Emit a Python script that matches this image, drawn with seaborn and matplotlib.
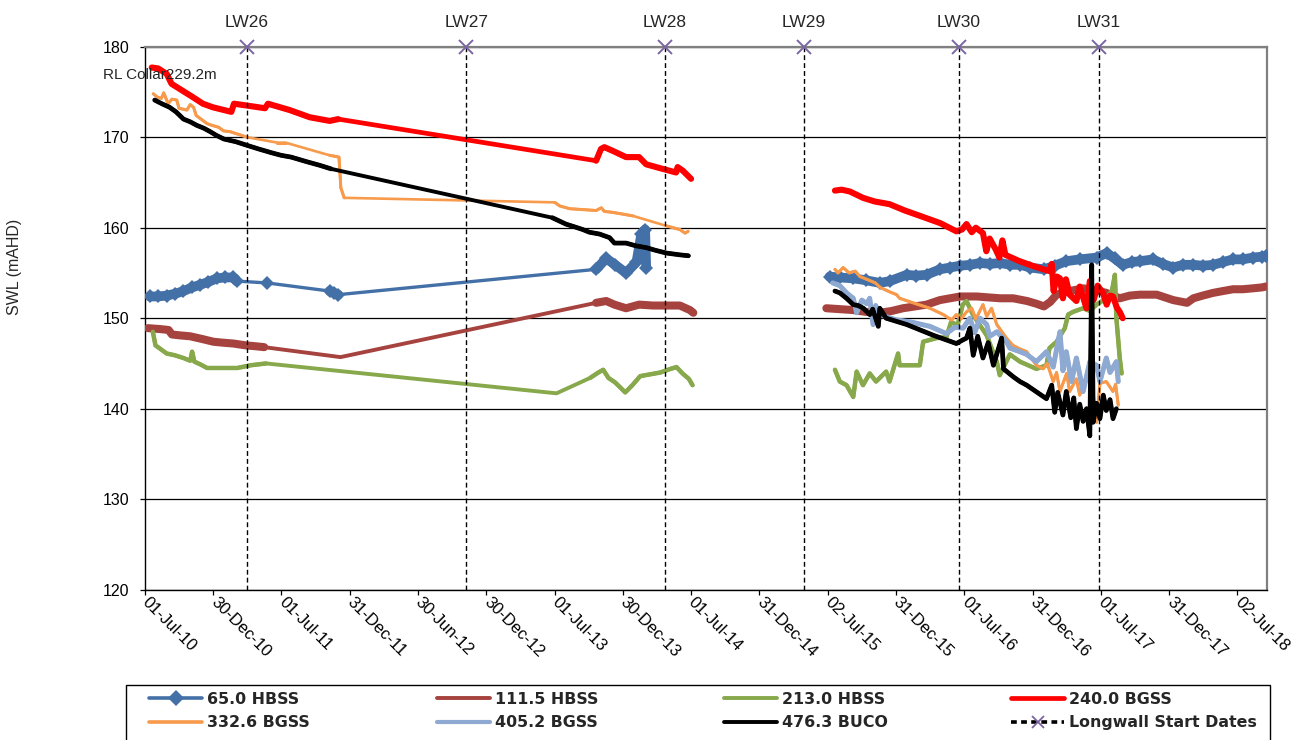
import numpy as np
import pandas as pd
import matplotlib
matplotlib.use("Agg")
import matplotlib.pyplot as plt
from matplotlib.lines import Line2D
from matplotlib.patches import Rectangle
import seaborn as sns

NA = np.nan  # no logger data for that period

# ---------------- standing water levels (mAHD) ----------------
hbss65_dates = ['2010-07-14', '2010-08-04', '2010-08-28', '2010-09-19', '2010-10-12', '2010-11-04',
                '2010-11-26', '2010-12-17', '2011-01-09', '2011-01-31', '2011-02-22', '2011-03-03',
                '2011-05-23', '2011-11-07', '2011-11-18', '2011-11-30', '2013-10-20', '2013-11-16',
                '2013-12-10', '2014-01-08', '2014-02-05', '2014-02-18', '2014-02-28', '2014-03-03',
                '2015-01-01',
                '2015-07-07', '2015-08-03', '2015-09-08', '2015-10-11', '2015-11-18', '2015-12-15',
                '2016-01-29', '2016-02-23', '2016-03-22', '2016-04-27', '2016-05-24', '2016-06-20',
                '2016-07-17', '2016-08-12', '2016-09-08', '2016-10-05', '2016-11-01', '2016-11-28',
                '2016-12-24', '2017-01-30', '2017-02-28', '2017-03-31', '2017-05-06', '2017-06-20',
                '2017-07-17', '2017-08-07', '2017-08-29', '2017-09-22', '2017-10-14', '2017-11-18',
                '2017-12-14', '2018-01-11', '2018-02-06', '2018-03-06', '2018-03-31', '2018-04-28',
                '2018-05-24', '2018-06-20', '2018-07-16', '2018-08-12', '2018-09-05', '2018-09-17']
hbss65_vals = [152.4, 152.4, 152.5, 152.7, 153.0, 153.4, 153.7, 154.0, 154.4, 154.5, 154.5, 154.1,
               153.9, 153.0, 152.8, 152.6, 155.4, 156.6, 155.9, 155.0, 156.2, 159.3, 159.8, 155.6,
               NA,
               154.6, 154.5, 154.4, 154.2, 153.9, 154.1,
               154.8, 154.7, 154.8, 155.4, 155.6, 155.8, 155.9, 156.1, 156.0, 156.1, 155.9, 155.9, 155.6,
               155.4, 155.8, 156.3, 156.5, 156.7, 157.2, 156.6, 155.9, 156.2, 156.3, 156.5, 156.0,
               155.6, 155.9, 155.9, 155.8, 155.9, 156.2, 156.5, 156.5, 156.7, 156.8, 156.9]

hbss111_dates = ['2010-07-09', '2010-08-10', '2010-09-02', '2010-09-11', '2010-10-03', '2010-10-30',
                 '2010-12-01', '2010-12-31', '2011-01-24', '2011-02-23', '2011-03-27', '2011-04-23',
                 '2011-05-16', '2011-12-06', '2013-10-20', '2013-11-16', '2013-12-08', '2014-01-08',
                 '2014-02-12', '2014-03-21', '2014-04-26', '2014-06-01', '2014-06-28', '2014-07-07',
                 '2015-01-01',
                 '2015-06-28', '2015-08-03', '2015-09-08', '2015-10-12', '2015-11-18', '2015-12-20',
                 '2016-01-19', '2016-02-20', '2016-03-22', '2016-04-27', '2016-05-24', '2016-06-20',
                 '2016-08-04', '2016-09-03', '2016-10-05', '2016-11-09', '2016-12-16',
                 '2017-01-10', '2017-01-30', '2017-02-16', '2017-03-05', '2017-04-09', '2017-05-15',
                 '2017-06-16', '2017-07-16', '2017-08-21', '2017-09-17', '2017-10-14', '2017-11-28',
                 '2018-01-11', '2018-02-17', '2018-03-06', '2018-03-31', '2018-04-28', '2018-05-24',
                 '2018-06-20', '2018-07-16', '2018-08-12', '2018-09-05', '2018-09-16']
hbss111_vals = [148.9, 148.8, 148.7, 148.2, 148.1, 148.0, 147.7, 147.4, 147.3, 147.2, 147.0, 146.9,
                146.8, 145.7, 151.7, 151.9, 151.5, 151.1, 151.5, 151.4, 151.4, 151.4, 150.9, 150.6,
                NA,
                151.1, 151.0, 150.9, 150.7, 150.6, 150.8,
                151.1, 151.3, 151.5, 152.0, 152.2, 152.4, 152.4, 152.3, 152.2, 152.2, 151.9,
                151.6, 151.3, 151.8, 152.6, 153.0, 153.3, 153.1, 152.8, 152.2, 152.5, 152.6, 152.6,
                152.0, 151.7, 152.2, 152.5, 152.8, 153.0, 153.2, 153.2, 153.3, 153.4, 153.5]

hbss213_dates = ['2010-07-22', '2010-07-29', '2010-08-28', '2010-09-19', '2010-10-12', '2010-10-30',
                 '2010-11-04', '2010-11-10', '2010-11-26', '2010-12-14', '2011-01-19', '2011-03-05',
                 '2011-04-10', '2011-05-21', '2013-07-06', '2013-10-04', '2013-10-26', '2013-11-08',
                 '2013-11-22', '2013-12-10', '2014-01-06', '2014-01-25', '2014-02-15', '2014-03-14',
                 '2014-04-10', '2014-05-07', '2014-05-23', '2014-06-08', '2014-06-25', '2014-07-05',
                 '2015-01-01',
                 '2015-07-21', '2015-08-03', '2015-08-21', '2015-09-08', '2015-09-17', '2015-10-04',
                 '2015-10-22', '2015-11-08', '2015-12-05', '2015-12-14', '2016-01-06', '2016-01-10',
                 '2016-03-04', '2016-03-13', '2016-04-18', '2016-05-14', '2016-05-27', '2016-06-13',
                 '2016-06-27', '2016-07-07', '2016-07-24', '2016-08-30', '2016-09-26', '2016-10-04',
                 '2016-10-31', '2016-11-27', '2017-01-10', '2017-02-06', '2017-02-14', '2017-03-05',
                 '2017-03-27', '2017-04-05', '2017-04-18', '2017-05-15', '2017-06-02', '2017-06-20',
                 '2017-07-16', '2017-07-31', '2017-08-08', '2017-08-12', '2017-08-21', '2017-08-26']
hbss213_vals = [148.5, 147.0, 146.1, 145.9, 145.6, 145.3, 146.3, 145.2, 144.9, 144.5, 144.5, 144.5,
                144.8, 145.0, 141.7, 143.4, 144.0, 144.3, 143.4, 142.9, 141.8, 142.6, 143.6, 143.8,
                144.0, 144.4, 144.6, 143.9, 143.3, 142.6,
                NA,
                144.3, 143.0, 142.6, 141.3, 144.1, 142.6, 143.9, 143.0, 144.1, 143.0, 146.1, 144.8,
                144.8, 147.4, 147.8, 147.9, 149.6, 149.2, 151.5, 151.9, 150.4, 148.1, 145.2, 143.7,
                146.0, 145.2, 144.4, 144.8, 146.7, 147.4, 148.9, 150.4, 150.7, 151.1, 150.8, 151.5,
                152.2, 153.0, 154.8, 150.0, 145.6, 143.9]

bgss240_dates = ['2010-07-19', '2010-08-05', '2010-08-28', '2010-09-10', '2010-10-07', '2010-11-07',
                 '2010-12-03', '2010-12-30', '2011-02-17', '2011-02-24', '2011-03-30', '2011-05-18',
                 '2011-05-26', '2011-07-23', '2011-09-15', '2011-11-07', '2011-11-30', '2013-10-20',
                 '2013-11-02', '2013-11-11', '2013-12-03', '2014-01-08', '2014-02-12', '2014-03-03',
                 '2014-04-16', '2014-05-22', '2014-05-26', '2014-06-09', '2014-07-01',
                 '2015-01-01',
                 '2015-07-21', '2015-08-08', '2015-08-30', '2015-10-04', '2015-11-04', '2015-12-14',
                 '2016-01-24', '2016-03-05', '2016-04-28', '2016-06-10', '2016-06-25', '2016-07-07',
                 '2016-07-21', '2016-08-01', '2016-08-20', '2016-08-29', '2016-09-07', '2016-09-23',
                 '2016-10-03', '2016-10-11', '2016-10-19', '2016-11-26', '2017-01-06', '2017-02-14',
                 '2017-02-20', '2017-02-25', '2017-03-06', '2017-03-14', '2017-03-22', '2017-03-30',
                 '2017-04-09', '2017-04-27', '2017-05-06', '2017-05-24', '2017-06-02', '2017-06-12',
                 '2017-06-23', '2017-07-07', '2017-07-17', '2017-07-26', '2017-08-03', '2017-08-13',
                 '2017-08-21', '2017-08-29']
bgss240_vals = [177.7, 177.6, 177.0, 175.9, 175.2, 174.4, 173.7, 173.3, 172.8, 173.7, 173.5, 173.2,
                173.7, 173.0, 172.2, 171.8, 172.0, 167.4, 168.7, 168.9, 168.5, 167.8, 167.8, 167.0,
                166.5, 166.1, 166.7, 166.3, 165.4,
                NA,
                164.1, 164.2, 164.0, 163.3, 162.9, 162.6, 161.9, 161.3, 160.5, 159.6, 159.8, 160.4,
                159.5, 160.0, 159.4, 157.4, 158.8, 157.6, 156.7, 158.6, 157.0, 156.3, 155.7, 155.2,
                156.0, 153.0, 154.6, 154.4, 152.2, 154.3, 152.6, 151.9, 153.5, 151.1, 154.1, 152.0,
                153.6, 152.8, 151.5, 152.5, 152.4, 151.2, 150.7, 150.0]

bgss332_dates = ['2010-07-23', '2010-08-04', '2010-08-14', '2010-08-20', '2010-09-01', '2010-09-11',
                 '2010-09-24', '2010-09-30', '2010-10-21', '2010-10-30', '2010-11-08', '2010-11-15',
                 '2010-12-14', '2010-12-28', '2011-01-14', '2011-01-27', '2011-02-15', '2011-03-31',
                 '2011-06-20', '2011-07-12', '2011-11-07', '2011-12-02', '2011-12-07', '2011-12-16',
                 '2013-07-01', '2013-07-15', '2013-08-10', '2013-10-20', '2013-11-03', '2013-11-11',
                 '2013-12-03', '2014-01-27', '2014-04-26', '2014-06-01', '2014-06-15', '2014-06-23',
                 '2015-01-01',
                 '2015-07-21', '2015-07-29', '2015-08-12', '2015-08-28', '2015-09-13', '2015-09-26',
                 '2015-10-14', '2015-11-06', '2015-11-19', '2015-12-15', '2016-01-02', '2016-01-10',
                 '2016-02-15', '2016-03-31', '2016-05-06', '2016-05-28', '2016-06-10', '2016-06-22',
                 '2016-07-07', '2016-07-21', '2016-08-01', '2016-08-20', '2016-08-30', '2016-09-12',
                 '2016-09-26', '2016-10-22', '2016-11-08', '2016-11-27', '2016-12-15', '2017-01-10',
                 '2017-01-28', '2017-02-08', '2017-02-24', '2017-03-05', '2017-03-14', '2017-04-01',
                 '2017-04-09', '2017-04-27', '2017-05-06', '2017-05-24', '2017-06-10', '2017-06-20',
                 '2017-06-29', '2017-07-16', '2017-08-03', '2017-08-10', '2017-08-17']
bgss332_vals = [174.8, 174.4, 174.3, 174.9, 173.7, 174.2, 174.1, 173.2, 173.0, 173.6, 173.3, 172.4,
                171.5, 171.3, 171.1, 170.7, 170.6, 170.0, 169.4, 169.4, 168.0, 167.8, 164.4, 163.3,
                162.8, 162.4, 162.1, 161.9, 162.2, 161.8, 161.7, 161.3, 160.2, 159.8, 159.4, 159.6,
                NA,
                155.4, 155.0, 155.6, 155.0, 155.2, 154.6, 154.3, 153.9, 153.4, 152.9, 152.6, 152.2,
                151.7, 151.1, 150.4, 149.8, 150.4, 149.9, 150.7, 151.1, 149.9, 151.5, 150.2, 151.1,
                149.3, 147.8, 147.0, 146.6, 146.3, 144.8, 144.4, 145.0, 143.0, 144.0, 141.9, 143.9,
                141.9, 143.3, 141.5, 143.6, 142.0, 138.5, 142.8, 143.0, 141.9, 142.7, 140.4]

bgss405_dates = ['2015-07-15', '2015-08-03', '2015-08-21', '2015-09-08', '2015-09-17', '2015-10-01',
                 '2015-10-14', '2015-10-22', '2015-10-31', '2015-11-07', '2015-11-18', '2016-01-02',
                 '2016-02-07', '2016-03-31', '2016-05-14', '2016-06-06', '2016-06-28', '2016-07-16',
                 '2016-07-29', '2016-08-12', '2016-08-30', '2016-09-07', '2016-09-26', '2016-10-22',
                 '2016-10-31', '2016-11-27', '2016-12-15', '2017-01-10', '2017-02-06', '2017-02-24',
                 '2017-03-14', '2017-03-22', '2017-03-31', '2017-04-14', '2017-04-27', '2017-05-15',
                 '2017-06-02', '2017-06-20', '2017-06-29', '2017-07-16', '2017-07-26', '2017-08-12',
                 '2017-08-17']
bgss405_vals = [153.9, 153.6, 152.8, 152.2, 150.6, 152.0, 151.6, 152.2, 149.3, 151.4, 150.4, 149.8,
                149.6, 149.1, 148.3, 149.0, 148.9, 150.0, 148.4, 150.0, 149.3, 148.0, 148.5, 147.4,
                146.7, 146.3, 146.0, 145.2, 146.3, 144.6, 148.5, 144.2, 146.3, 143.0, 145.6, 141.9,
                145.2, 144.8, 143.0, 145.6, 144.0, 145.2, 143.0]

buco476_dates = ['2010-07-27', '2010-08-15', '2010-09-05', '2010-09-22', '2010-10-12', '2010-10-30',
                 '2010-11-17', '2010-12-05', '2010-12-23', '2011-01-08', '2011-01-28', '2011-03-01',
                 '2011-03-31', '2011-05-01', '2011-06-03', '2011-06-30', '2011-07-27', '2011-09-06',
                 '2011-10-11', '2011-11-11', '2013-06-25', '2013-07-31', '2013-08-23', '2013-09-14',
                 '2013-10-02', '2013-10-29', '2013-11-25', '2013-12-08', '2014-01-08', '2014-02-03',
                 '2014-03-03', '2014-03-28', '2014-04-26', '2014-06-01', '2014-06-24',
                 '2015-01-01',
                 '2015-07-21', '2015-08-03', '2015-08-21', '2015-09-08', '2015-09-21', '2015-10-05',
                 '2015-10-22', '2015-10-30', '2015-11-14', '2015-11-18', '2015-12-05', '2016-01-29',
                 '2016-04-10', '2016-06-10', '2016-06-27', '2016-07-07', '2016-07-16', '2016-07-25',
                 '2016-08-06', '2016-08-20', '2016-09-03', '2016-09-17', '2016-10-09', '2016-10-14',
                 '2016-11-10', '2016-11-27', '2016-12-15', '2017-02-06', '2017-02-20', '2017-02-28',
                 '2017-03-08', '2017-03-22', '2017-03-31', '2017-04-12', '2017-04-20', '2017-04-27',
                 '2017-05-06', '2017-05-15', '2017-05-24', '2017-06-02', '2017-06-07', '2017-06-11',
                 '2017-06-20', '2017-06-29', '2017-07-08', '2017-07-16', '2017-07-26', '2017-08-03',
                 '2017-08-12']
buco476_vals = [174.1, 173.7, 173.3, 172.8, 172.0, 171.7, 171.3, 171.0, 170.6, 170.2, 169.8, 169.5,
                169.1, 168.7, 168.3, 168.0, 167.8, 167.3, 166.9, 166.5, 161.1, 160.4, 160.1, 159.8,
                159.5, 159.3, 158.9, 158.3, 158.3, 158.0, 157.8, 157.5, 157.2, 157.0, 156.9,
                NA,
                153.0, 152.8, 152.2, 151.5, 151.4, 151.1, 150.4, 151.0, 149.1, 151.1, 150.0, 149.3,
                148.1, 147.2, 147.6, 147.8, 148.9, 145.9, 148.0, 145.6, 147.3, 144.8, 147.8, 144.4,
                143.5, 143.0, 142.6, 141.1, 142.6, 139.6, 141.8, 139.3, 141.9, 139.0, 141.2, 137.8,
                140.5, 138.6, 140.0, 137.0, 155.9, 138.5, 140.6, 138.9, 141.5, 139.8, 141.0, 138.9,
                140.0]

# ---------------- longwall start dates ----------------
lw_names = ['LW26', 'LW27', 'LW28', 'LW29', 'LW30', 'LW31']
lw_dates = ['2011-03-30', '2012-11-07', '2014-04-22', '2015-04-29', '2016-06-16', '2017-06-26']
lw_level = 180

# ---------------- axis ticks ----------------
x_tick_dates = ['2010-07-01', '2010-12-30', '2011-07-01', '2011-12-31', '2012-06-30', '2012-12-30',
                '2013-07-01', '2013-12-30', '2014-07-01', '2014-12-31', '2015-07-02', '2015-12-31',
                '2016-07-01', '2016-12-31', '2017-07-01', '2017-12-31', '2018-07-02']
y_ticks = [120, 130, 140, 150, 160, 170, 180]

# label, dates, values, colour, line width, width where readings are dense, marker
series = [
    ('65.0 HBSS', hbss65_dates, hbss65_vals, '#4470A8', 2.4, 7.0, 'D'),
    ('111.5 HBSS', hbss111_dates, hbss111_vals, '#A6433F', 2.8, 5.8, None),
    ('213.0 HBSS', hbss213_dates, hbss213_vals, '#88A84C', 2.8, 3.2, None),
    ('240.0 BGSS', bgss240_dates, bgss240_vals, '#FF0000', 3.4, 4.4, None),
    ('332.6 BGSS', bgss332_dates, bgss332_vals, '#F79A4B', 1.9, 2.2, None),
    ('405.2 BGSS', bgss405_dates, bgss405_vals, '#8EA9D2', 3.0, 3.6, None),
    ('476.3 BUCO', buco476_dates, buco476_vals, '#000000', 2.8, 3.4, None),
]
lw_colour = '#7B66A3'

sns.set_style('ticks')
plt.rcParams['font.family'] = ['Liberation Sans', 'DejaVu Sans']


def to_frame(dates, vals):
    df = pd.DataFrame({'date': pd.to_datetime(dates), 'value': vals})
    df['run'] = df['value'].isna().cumsum()
    return df.dropna().reset_index(drop=True)


def dense_frame(df, max_gap=pd.Timedelta(days=75)):
    """Split a series into stretches of closely spaced readings."""
    parts, uid = [], 0
    for _, g in df.groupby('run'):
        g = g.reset_index(drop=True)
        brk = (g['date'].diff() > max_gap).cumsum()
        for _, h in g.groupby(brk):
            if len(h) > 1:
                parts.append(h.assign(unit=uid))
                uid += 1
    return pd.concat(parts, ignore_index=True) if parts else None


W, H = 1291, 740
fig = plt.figure(figsize=(W / 100, H / 100), dpi=100)
ax = fig.add_axes([145 / W, 1 - 589.7 / H, (1267 - 145) / W, (589.7 - 46.7) / H])

line_style = dict(solid_capstyle='round', solid_joinstyle='round')
handles = []
for z, (label, d, v, colour, lw, dense_lw, marker) in enumerate(series):
    df = to_frame(d, v)
    kws = dict(line_style)
    if marker:
        kws.update(marker=marker, markersize=7, markerfacecolor=colour,
                   markeredgecolor=colour, markeredgewidth=0)
    sns.lineplot(data=df, x='date', y='value', units='run', estimator=None, sort=False,
                 color=colour, linewidth=lw, ax=ax, legend=False, zorder=3 + z, **kws)
    dense = dense_frame(df)
    if dense is not None:
        sns.lineplot(data=dense, x='date', y='value', units='unit', estimator=None, sort=False,
                     color=colour, linewidth=dense_lw, ax=ax, legend=False, zorder=3 + z,
                     **line_style)
    handles.append(Line2D([], [], color=colour, lw=max(lw, 2.6), marker=marker or '',
                          markersize=8, markerfacecolor=colour, markeredgecolor=colour,
                          markeredgewidth=0, label=label))

# longwall start dates: dashed verticals with a cross at the top of the scale
lw_dt = pd.to_datetime(lw_dates)
ax.vlines(lw_dt, y_ticks[0], lw_level, colors='black', linestyles=(0, (3.5, 2.2)),
          linewidth=1.0, zorder=12)
ax.plot(lw_dt, [lw_level] * len(lw_dt), ls='none', marker='x', markersize=10,
        markeredgewidth=1.4, color=lw_colour, zorder=13, clip_on=False)
for d, name in zip(lw_dt, lw_names):
    ax.annotate(name, xy=(d, lw_level), xytext=(0, 17.5), textcoords='offset points',
                ha='center', va='center', fontsize=12.5, annotation_clip=False)
handles.append(Line2D([], [], color='black', lw=2.6, ls=(0, (1.6, 1.2)), marker='x',
                      markersize=9, markeredgecolor=lw_colour, markeredgewidth=1.3,
                      label='Longwall Start Dates'))

# axes
ax.set_xlim(pd.Timestamp('2010-07-01'), pd.Timestamp('2018-09-19'))
ax.set_ylim(y_ticks[0], y_ticks[-1])
ax.set_yticks(y_ticks)
xt = pd.to_datetime(x_tick_dates)
ax.set_xticks(xt)
ax.set_xticklabels([t.strftime('%d-%b-%y') for t in xt], rotation=-45, ha='left',
                   va='center', rotation_mode='anchor')
ax.set_xlabel('')
ax.set_ylabel('')
ax.grid(False)
ax.yaxis.grid(True, color='black', linewidth=0.9)
ax.set_axisbelow(True)
ax.tick_params(axis='x', bottom=True, direction='out', length=3.6, width=0.9, pad=4,
               labelsize=12, colors='black')
ax.tick_params(axis='y', left=True, direction='out', length=3.6, width=0.9, pad=7.5,
               labelsize=11.5, colors='black')
for s in ('left', 'bottom'):
    ax.spines[s].set_color('black')
    ax.spines[s].set_linewidth(1.0)
for s in ('top', 'right'):
    ax.spines[s].set_visible(True)
    ax.spines[s].set_color('#808080')
    ax.spines[s].set_linewidth(1.6)

fig.text(103 / W, 1 - 75 / H, 'RL Collar229.2m', fontsize=11, ha='left', va='center')
fig.text(15 / W, 1 - 267 / H, 'SWL (mAHD)', fontsize=11.5, rotation=90,
         ha='center', va='center')

# legend: four evenly spaced columns inside one frame
fig.add_artist(Rectangle((126 / W, -0.05), (1270 - 126) / W, 0.05 + 1 - 685 / H,
                         transform=fig.transFigure, fill=False, edgecolor='black',
                         linewidth=1.0))
col_x = [149, 437, 724, 1011]
for k, x0 in enumerate(col_x):
    fig.legend(handles=[handles[k], handles[k + 4]], loc='upper left',
               bbox_to_anchor=(x0 / W, 1 - 691.5 / H), frameon=False,
               prop={'family': 'DejaVu Sans', 'weight': 'bold', 'size': 11.4},
               handlelength=3.35, handletextpad=0.3, labelspacing=0.56,
               borderpad=0, borderaxespad=0)

fig.savefig('out.png', dpi=100)
